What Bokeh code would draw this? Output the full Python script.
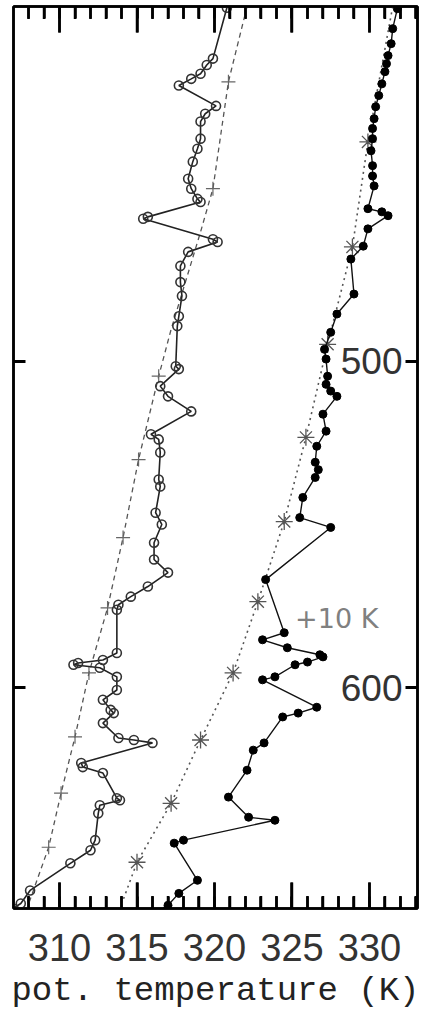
import math
from bokeh.plotting import figure
from bokeh.models import Range1d, FixedTicker, ColumnDataSource, LinearAxis, LogAxis
from bokeh.core.properties import value
from bokeh.embed import file_html
from bokeh.resources import INLINE

# ---- data: potential temperature (K) vs pressure (hPa) ----
# measured profile (open circles)
obs_theta = [320.8, 319.9, 319.5, 319.1, 318.5, 317.7, 320.1, 319.4, 319.1, 319.1, 318.9, 318.6,
             318.3, 318.5, 318.9, 319.1, 315.7, 315.4, 319.9, 320.2, 318.3, 317.8, 317.8, 317.9,
             317.7, 317.6, 317.5, 317.7, 316.5, 317.0, 318.5, 315.9, 316.4, 316.5, 316.4, 316.5,
             316.2, 316.6, 316.1, 316.1, 317.0, 315.7, 314.6, 313.8, 313.7, 313.7, 312.8, 311.2,
             310.9, 312.6, 313.7, 313.7, 312.8, 313.3, 313.5, 312.8, 313.8, 314.8, 316.0, 311.4,
             311.5, 312.8, 313.7, 313.9, 312.6, 312.5, 312.3, 312.0, 310.7, 308.1, 307.5, 307.0]
obs_p = [410.5, 422.3, 423.8, 425.9, 427.1, 428.7, 433.6, 435.5, 437.4, 441.6, 444.1, 447.3,
         451.6, 454.1, 456.7, 457.5, 461.3, 461.8, 467.1, 467.8, 470.4, 474.1, 478.4, 482.1,
         487.6, 490.3, 501.4, 502.2, 507.0, 509.9, 514.2, 520.8, 522.3, 526.1, 534.1, 536.2,
         544.1, 547.7, 553.3, 558.5, 562.6, 567.0, 570.2, 572.8, 574.4, 588.4, 590.7, 591.7,
         592.3, 593.3, 596.3, 600.7, 604.0, 607.4, 608.5, 611.9, 617.0, 617.7, 618.7, 625.7,
         627.1, 629.2, 638.1, 638.8, 640.6, 643.5, 653.2, 656.9, 661.7, 671.8, 676.7, 678.6]

# reference profile (dashed, + markers)
ref_theta = [322.1, 320.9, 319.9, 319.1, 317.2, 316.4, 315.1, 314.1, 313.1, 311.9, 311.0,
             310.1, 309.3, 307.9]
ref_p = [410.2, 427.8, 454.1, 465.2, 491.2, 504.2, 528.2, 551.7, 573.8, 595.0, 616.6,
         636.3, 655.8, 678.6]
ref_mark_theta = [320.9, 319.9, 316.4, 315.1, 314.1, 313.1, 311.9, 311.0, 310.1, 309.3]
ref_mark_p = [427.8, 454.1, 504.2, 528.2, 551.7, 573.8, 595.0, 616.6, 636.3, 655.8]

# second profile shifted by +10 K (filled circles)
sh_theta = [331.8, 331.5, 331.4, 331.2, 331.1, 331.0, 330.8, 330.6, 330.4, 330.3, 330.2,
            330.2, 330.1, 330.2, 330.2, 330.3, 329.9, 330.8, 331.2, 329.9, 329.6, 328.8,
            329.0, 327.9, 327.5, 327.1, 327.2, 327.3, 327.2, 327.5, 327.9, 327.0, 327.2,
            326.6, 326.5, 326.7, 326.5, 325.7, 325.5, 327.5, 323.3, 324.5, 323.1, 324.7,
            326.8, 327.0, 326.0, 325.2, 323.9, 323.1, 326.6, 325.4, 324.4, 323.2, 322.5,
            322.1, 320.9, 322.2, 323.9, 318.0, 317.4, 318.9, 317.7, 317.0, 316.9]
sh_p = [410.7, 415.3, 418.8, 421.6, 423.5, 425.4, 428.3, 431.1, 433.8, 436.7, 439.1,
        441.6, 444.6, 448.3, 450.9, 453.4, 459.2, 460.0, 461.0, 464.4, 468.9, 472.3,
        481.6, 487.0, 492.0, 496.7, 499.4, 504.2, 506.5, 508.4, 509.9, 515.0, 519.9,
        524.3, 529.0, 531.2, 533.5, 539.5, 545.6, 548.6, 564.8, 581.8, 584.1, 586.7,
        589.0, 589.7, 591.4, 592.3, 596.3, 597.3, 606.5, 608.5, 609.8, 618.7, 621.2,
        628.2, 637.7, 644.9, 646.0, 653.2, 654.3, 668.0, 672.9, 677.4, 679.3]

# its reference (dotted, * markers)
shref_theta = [331.5, 329.9, 328.9, 327.3, 325.9, 324.5, 322.8, 321.2, 319.1, 317.2, 315.0, 313.9]
shref_p = [410.2, 442.4, 469.1, 495.3, 521.7, 546.8, 571.8, 595.0, 617.7, 639.9, 661.3, 678.6]
shref_mark_theta = shref_theta[1:-1]
shref_mark_p = shref_p[1:-1]

x_ticks = [310, 315, 320, 325, 330]
x_minor = list(range(308, 334))
y_ticks = [500, 600]
y_labels = ["500", "600"]
shift_label = "+10 K"

X0, X1 = 307.03, 333.1
P_BOT, P_TOP = 678.6, 410.2
FRAME_W, FRAME_H = 404, 902

p = figure(width=428, height=1017, x_range=Range1d(X0, X1),
           y_range=Range1d(P_BOT, P_TOP), y_axis_type="log",
           output_backend="svg", toolbar_location=None,
           min_border_left=13, min_border_right=11, min_border_top=6,
           min_border_bottom=109)
p.grid.visible = False
p.outline_line_color = "black"
p.outline_line_width = 2.5

xt = FixedTicker(ticks=x_ticks, minor_ticks=x_minor)
yt = FixedTicker(ticks=y_ticks, minor_ticks=[])
bx = p.below[0]
tx = LinearAxis()
p.add_layout(tx, "above")
ly = p.left[0]
ry = LogAxis()
p.add_layout(ry, "right")
for ax in (bx, tx):
    ax.ticker = xt
    ax.major_tick_in = 26
    ax.major_tick_out = 0
    ax.minor_tick_in = 12
    ax.minor_tick_out = 0
    ax.major_tick_line_width = 2.5
    ax.minor_tick_line_width = 2.5
    ax.axis_line_width = 2.5
for ax in (ly, ry):
    ax.ticker = yt
    ax.major_tick_in = 12
    ax.major_tick_out = 0
    ax.minor_tick_in = 0
    ax.minor_tick_out = 0
    ax.major_tick_line_width = 3
    ax.axis_line_width = 2.5
for ax in (tx, ly, ry):
    ax.major_label_text_color = None
    ax.major_label_standoff = 0

bx.major_label_text_font = "Liberation Sans"
bx.major_label_text_font_size = "38px"
bx.major_label_text_color = "#333333"
bx.major_label_standoff = 25
bx.axis_label = "pot. temperature (K)"
bx.axis_label_text_font = "Liberation Mono"
bx.axis_label_text_font_size = "34px"
bx.axis_label_text_font_style = "normal"
bx.axis_label_text_color = "#222222"
bx.axis_label_standoff = 8

# tick marks as small filled bars at the frame edges (half of each is clipped away)
minor_x = [t for t in x_minor if t not in x_ticks]
for edge in (P_TOP, P_BOT):
    p.rect(x=x_ticks, y=[edge] * len(x_ticks), width=2.5, height=52,
           width_units="screen", height_units="screen", fill_color="black", line_color=None)
    p.rect(x=minor_x, y=[edge] * len(minor_x), width=2.5, height=25,
           width_units="screen", height_units="screen", fill_color="black", line_color=None)

# reference lines
p.line(ref_theta, ref_p, line_color="#555555", line_width=1.3, line_dash="5 4")
p.scatter(ref_mark_theta, ref_mark_p, marker="cross", size=14, line_color="#666666",
          line_width=1.2)
p.line(shref_theta, shref_p, line_color="#555555", line_width=1.6, line_dash="2 4")
p.scatter(shref_mark_theta, shref_mark_p, marker="asterisk", size=17, line_color="#555555",
          line_width=1.3)

# profiles
p.line(obs_theta, obs_p, line_color="#222222", line_width=1.6)
p.scatter(obs_theta, obs_p, marker="circle", size=9, fill_alpha=0.0,
          line_color="#333333", line_width=1.6)
p.line(sh_theta, sh_p, line_color="#111111", line_width=1.4)
p.scatter(sh_theta, sh_p, marker="circle", size=8, fill_color="black", line_color="black")

# pressure tick labels inside the right frame
kx = (X1 - X0) / FRAME_W
lab = ColumnDataSource(dict(x=[X1 - 15 * kx] * len(y_ticks), y=y_ticks, t=y_labels))
p.text(x="x", y="y", text="t", source=lab, text_align="right", text_baseline="middle",
       text_font=value("Liberation Sans"), text_font_size="37px", text_color="#333333")
p.text(x=[325.2], y=[577.3], text=[shift_label], text_align="left", text_baseline="middle",
       text_font=value("DejaVu Sans"), text_font_size="27px", text_color="#808080")

open("out.html", "w").write(file_html(p, INLINE))
